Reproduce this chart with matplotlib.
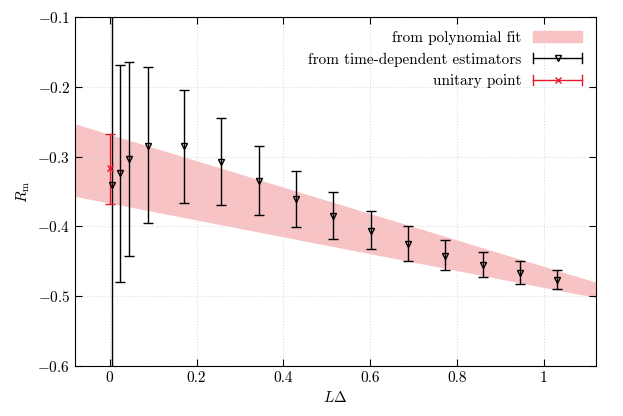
import numpy as np
import matplotlib as mpl
import matplotlib.pyplot as plt
from matplotlib.lines import Line2D
from matplotlib.patches import Patch
from matplotlib.legend_handler import HandlerBase

# data
x_td = [0.005, 0.023, 0.044, 0.087, 0.172, 0.257, 0.343, 0.430, 0.515,
        0.601, 0.687, 0.773, 0.859, 0.945, 1.031]
y_td = [-0.341, -0.324, -0.304, -0.285, -0.285, -0.308, -0.335, -0.361, -0.385,
        -0.407, -0.425, -0.442, -0.455, -0.467, -0.477]
y_hi = [0.5, -0.169, -0.165, -0.172, -0.205, -0.245, -0.285, -0.321, -0.351,
        -0.378, -0.400, -0.419, -0.436, -0.449, -0.463]
y_lo = [-1.5, -0.480, -0.442, -0.395, -0.366, -0.369, -0.384, -0.401, -0.418,
        -0.433, -0.449, -0.463, -0.473, -0.483, -0.490]
x_unit, y_unit, y_unit_hi, y_unit_lo = [0.0], [-0.316], [-0.267], [-0.368]
band_x = [-0.08, 1.12]
band_hi = [-0.253, -0.480]
band_lo = [-0.357, -0.502]

RED = "#e8192c"
BAND = "#f7c3c5"

mpl.rcParams.update({
    "font.family": "serif",
    "font.serif": ["cmr10", "DejaVu Serif"],
    "mathtext.fontset": "cm",
    "axes.formatter.use_mathtext": True,
    "font.size": 11,
})


class HErrHandler(HandlerBase):
    """gnuplot-style key: horizontal bar with end caps and marker."""
    def __init__(self, color, marker, ms):
        super().__init__()
        self.color, self.marker, self.ms = color, marker, ms

    def create_artists(self, legend, orig, xd, yd, w, h, fs, trans):
        yc = yd + h / 2
        arts = [Line2D([xd, xd + w], [yc, yc], color=self.color, lw=1),
                Line2D([xd, xd], [yc - 3.5, yc + 3.5], color=self.color, lw=1),
                Line2D([xd + w, xd + w], [yc - 3.5, yc + 3.5], color=self.color, lw=1),
                Line2D([xd + w / 2], [yc], marker=self.marker, ms=self.ms,
                       mfc="none", mec=self.color, ls="none")]
        for a in arts:
            a.set_transform(trans)
        return arts


fig = plt.figure(figsize=(6.23, 4.16), dpi=100)
ax = fig.add_axes([75/623, 1-366/416, (596-75)/623, (366-17)/416])

ax.fill_between(band_x, band_lo, band_hi, color=BAND, lw=0)
yt = np.array(y_td)
ax.errorbar(x_td, y_td, yerr=[yt - np.array(y_lo), np.array(y_hi) - yt],
            fmt="v", ms=4.5, mfc="none", mec="black", color="black",
            ecolor="black", elinewidth=1, capsize=3.5, capthick=1)
yu = np.array(y_unit)
ax.errorbar(x_unit, y_unit, yerr=[yu - np.array(y_unit_lo), np.array(y_unit_hi) - yu],
            fmt="x", ms=5, color=RED, elinewidth=1, capsize=3.5, capthick=1)

ax.set_xlim(-0.08, 1.12)
ax.set_ylim(-0.6, -0.1)
ax.set_xticks([0, 0.2, 0.4, 0.6, 0.8, 1])
ax.set_xticklabels(["0", "0.2", "0.4", "0.6", "0.8", "1"])
ax.set_yticks(np.arange(-0.6, -0.05, 0.1))
ax.set_yticklabels(["$-0.6$", "$-0.5$", "$-0.4$", "$-0.3$", "$-0.2$", "$-0.1$"])
ax.grid(True, ls=":", color="#dddddd", lw=0.8)
ax.tick_params(direction="in", top=True, right=True, length=5)
ax.set_xlabel(r"$L\Delta$")
ax.set_ylabel(r"$R_{\rm m}$")

h_band = Patch(color=BAND)
h_td = Line2D([], [], color="black")
h_un = Line2D([], [], color=RED)
ax.legend([h_band, h_td, h_un],
          ["from polynomial fit", "from time-dependent estimators", "unitary point"],
          loc="upper right", frameon=False, markerfirst=False,
          handlelength=3.2, fontsize=11,
          handler_map={h_td: HErrHandler("black", "v", 4.5),
                       h_un: HErrHandler(RED, "x", 4.5)})

fig.savefig("out.png", dpi=100)
